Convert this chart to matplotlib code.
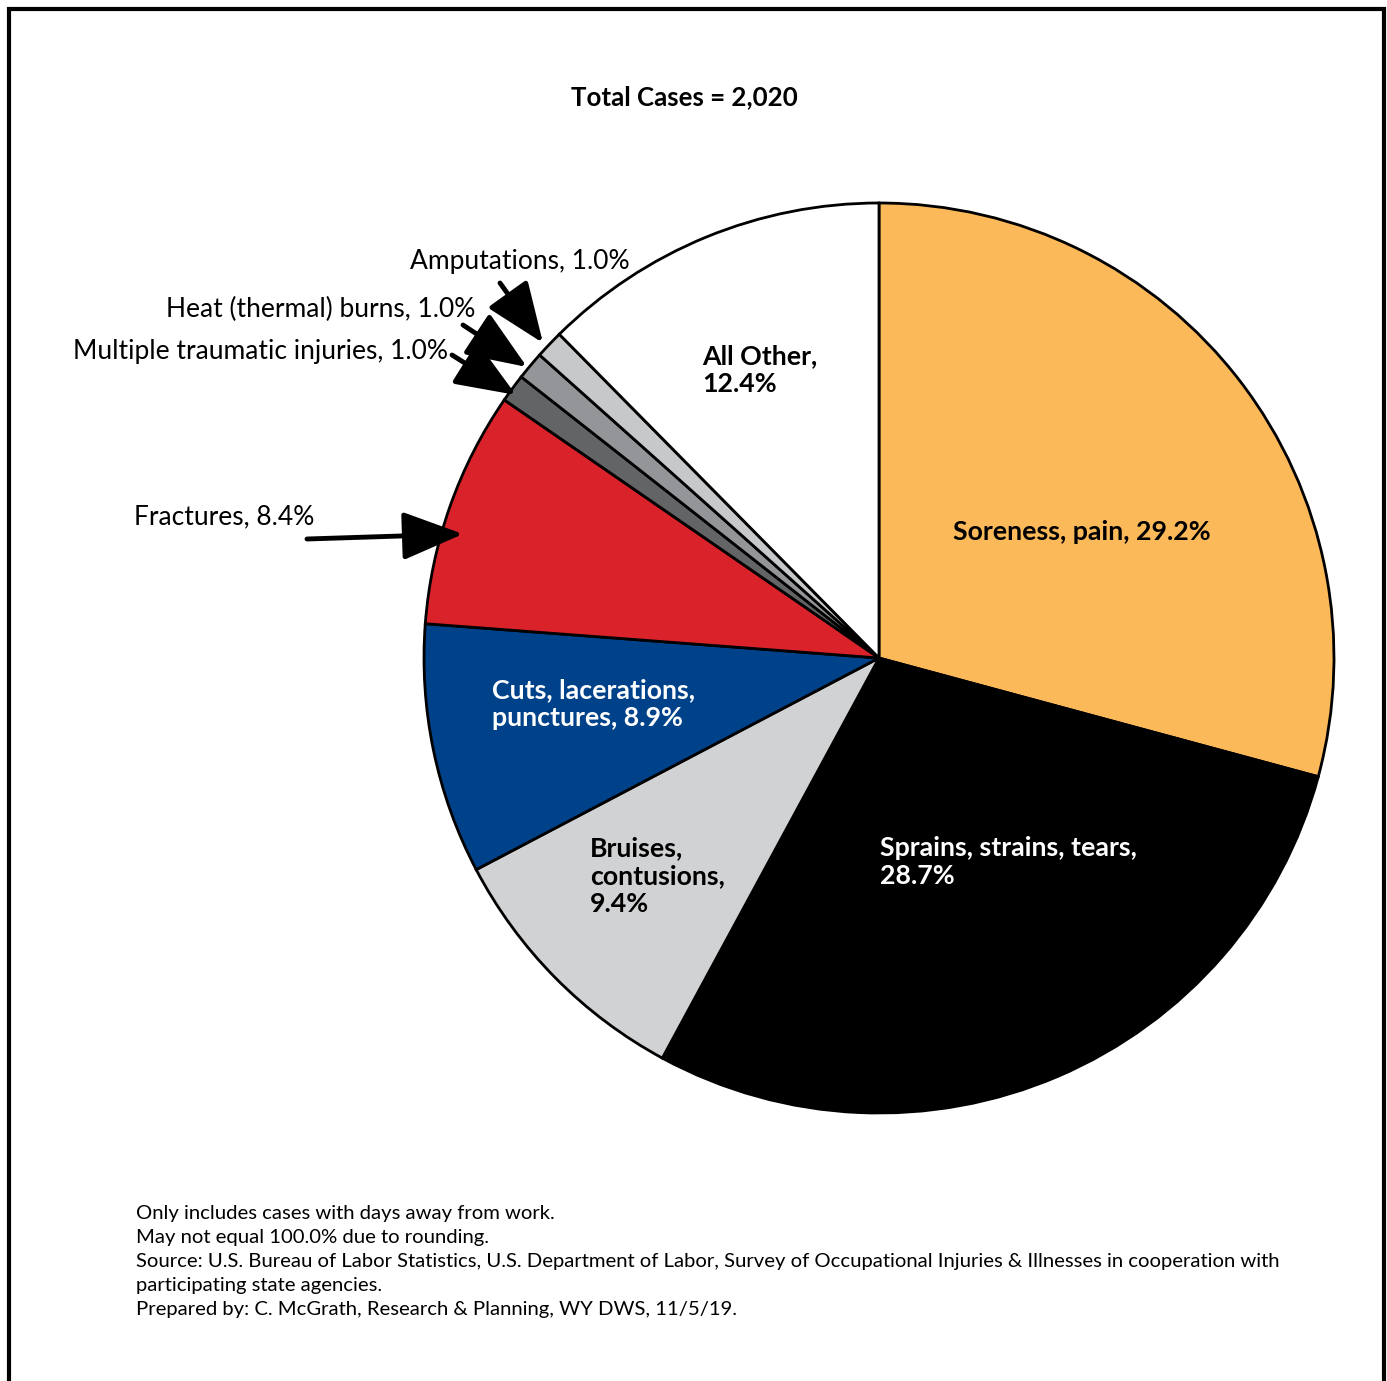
import matplotlib
matplotlib.use("Agg")
import matplotlib.pyplot as plt
from matplotlib.patches import Rectangle

categories = ["Soreness, pain", "Sprains, strains, tears", "Bruises, contusions",
              "Cuts, lacerations, punctures", "Fractures", "Multiple traumatic injuries",
              "Heat (thermal) burns", "Amputations", "All Other"]
values = [29.2, 28.7, 9.4, 8.9, 8.4, 1.0, 1.0, 1.0, 12.4]
colors = ["#FBB95A", "#000000", "#D1D2D4", "#00428A", "#D9222A", "#636466",
          "#939598", "#C7C8CA", "#FFFFFF"]
title = "Total Cases = 2,020"
notes = ["Only includes cases with days away from work.",
         "May not equal 100.0% due to rounding.",
         "Source: U.S. Bureau of Labor Statistics, U.S. Department of Labor, Survey of Occupational Injuries & Illnesses in cooperation with",
         "participating state agencies.",
         "Prepared by: C. McGrath, Research & Planning, WY DWS, 11/5/19."]

plt.rcParams['font.family'] = ['Lato', 'DejaVu Sans']

W, H = 1387, 1381
fig = plt.figure(figsize=(W / 100, H / 100), dpi=100)
ax = fig.add_axes([0, 0, 1, 1])

def Y(py):
    return H - py

cx, cy, r = 879, Y(658), 455
ax.pie(values, colors=colors, startangle=90, counterclock=False, center=(cx, cy), radius=r,
       wedgeprops=dict(edgecolor='black', linewidth=2), frame=True)
ax.set_xlim(0, W)
ax.set_ylim(0, H)
ax.set_aspect('equal')
ax.axis('off')

# frame
ax.add_patch(Rectangle((9, Y(1400)), 1375, 1400 - 9, fill=False, lw=3, ec='black', clip_on=True))

ax.text(684, Y(97), title, ha='center', va='center', fontsize=18.6, fontweight='bold')

bold = dict(fontsize=19.3, fontweight='bold', linespacing=1.2)
ax.text(1082, Y(532), "Soreness, pain, 29.2%", ha='center', va='center', color='black', **bold)
ax.text(880, Y(862), "Sprains, strains, tears,\n28.7%", ha='left', va='center', color='white', **bold)
ax.text(590, Y(876), "Bruises,\ncontusions,\n9.4%", ha='left', va='center', color='black', **bold)
ax.text(492, Y(704), "Cuts, lacerations,\npunctures, 8.9%", ha='left', va='center', color='white', **bold)
ax.text(702, Y(370), "All Other,\n12.4%", ha='left', va='center', color='black', **bold)

reg = dict(fontsize=19, color='black')
ax.text(630, Y(261), "Amputations, 1.0%", ha='right', va='center', **reg)
ax.text(475, Y(309), "Heat (thermal) burns, 1.0%", ha='right', va='center', **reg)
ax.text(448, Y(351), "Multiple traumatic injuries, 1.0%", ha='right', va='center', **reg)
ax.text(314, Y(517), "Fractures, 8.4%", ha='right', va='center', **reg)

astyle = dict(arrowstyle="-|>,head_length=1.25,head_width=0.5", color='black', lw=3.5,
              mutation_scale=30, shrinkA=0, shrinkB=0)
arrows = [((500, 283), (543, 343)), ((463, 325), (527, 367)),
          ((452, 355), (516, 395)), ((307, 539), (463, 534))]
for (x0, y0), (x1, y1) in arrows:
    ax.annotate("", xy=(x1, Y(y1)), xytext=(x0, Y(y0)), arrowprops=astyle)

for i, line in enumerate(notes):
    ax.text(136, Y(1214 + 24 * i), line, ha='left', va='center', fontsize=14.6)

fig.savefig("out.png", dpi=100)
